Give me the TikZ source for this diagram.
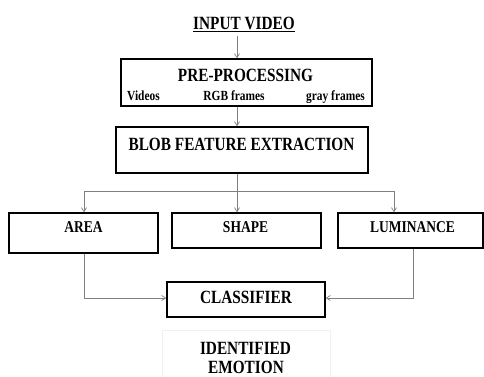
\documentclass[tikz,border=0pt]{standalone}
\usepackage{fontspec}
\setmainfont{Liberation Serif}
\usetikzlibrary{arrows.meta}
\newcommand{\tx}[2]{\fontsize{#1}{#1}\selectfont\bfseries\scalebox{1}[1.22]{#2}}
\begin{document}
\begin{tikzpicture}[x=1pt,y=-1pt,
  box/.style={draw=black,line width=1.4pt,rectangle,inner sep=0pt},
  lbl/.style={anchor=base,inner sep=0pt,text=black},
  conn/.style={draw=black!50,line width=0.7pt},
  arr/.style={conn,-{Straight Barb[length=4pt,width=5pt]}}]
\useasboundingbox (0,0) rectangle (484,376);
% boxes
\node[box,minimum width=251pt,minimum height=47pt] (pre) at (246.5,82.5) {};
\node[box,minimum width=252pt,minimum height=46pt] (blob) at (242,150) {};
\node[box,minimum width=149pt,minimum height=40pt] (area) at (83.5,233) {};
\node[box,minimum width=149pt,minimum height=35pt] (shape) at (246.5,230.5) {};
\node[box,minimum width=145pt,minimum height=35pt] (lum) at (410.5,230.5) {};
\node[box,minimum width=158pt,minimum height=35pt] (clas) at (246,299.5) {};
\node[draw=black!6,line width=0.6pt,minimum width=168pt,minimum height=50pt,inner sep=0pt] (outbox) at (246,355) {};
% labels
\node[lbl] (input) at (244,29.5) {\tx{15.3}{\underline{INPUT VIDEO}}};
\node[lbl] (pretitle) at (245.5,81) {\tx{15.3}{PRE-PROCESSING}};
\node[lbl] (vid) at (143.5,100) {\tx{11.4}{Videos}};
\node[lbl] (rgb) at (234,100) {\tx{11.4}{RGB frames}};
\node[lbl] (gray) at (335.5,100) {\tx{11.4}{gray frames}};
\node[lbl] (blobt) at (241.5,150) {\tx{15.3}{BLOB FEATURE EXTRACTION}};
\node[lbl] (areat) at (83.5,232) {\tx{13.5}{AREA}};
\node[lbl] (shapet) at (245.5,232) {\tx{13.5}{SHAPE}};
\node[lbl] (lumt) at (412.5,232) {\tx{13.5}{LUMINANCE}};
\node[lbl] (clast) at (246,303) {\tx{15.3}{CLASSIFIER}};
\node[lbl] (ident) at (245.5,354) {\tx{15.3}{IDENTIFIED}};
\node[lbl] (emot) at (246,373) {\tx{15.3}{EMOTION}};
% connector helper coordinates
\coordinate (cx) at (237,0);
\coordinate (ax) at (84,0);
\coordinate (lx) at (394,0);
\coordinate (lux) at (413,0);
\coordinate (bar) at (0,191);
\coordinate (cy) at (0,298);
% connectors
\draw[arr] (input.south -| cx) ++(0,4) -- (pre.north -| cx);
\draw[arr] (pre.south -| cx) -- (blob.north -| cx);
\draw[conn] (blob.south -| cx) -- (bar -| cx);
\draw[conn] (bar -| ax) -- (bar -| lx);
\draw[arr] (bar -| ax) -- (area.north -| ax);
\draw[arr] (bar -| cx) -- (shape.north -| cx);
\draw[arr] (bar -| lx) -- (lum.north -| lx);
\draw[arr] (area.south -| ax) -- (cy -| ax) -- (clas.west |- cy);
\draw[arr] (lum.south -| lux) -- (cy -| lux) -- (clas.east |- cy);
\end{tikzpicture}
\end{document}
